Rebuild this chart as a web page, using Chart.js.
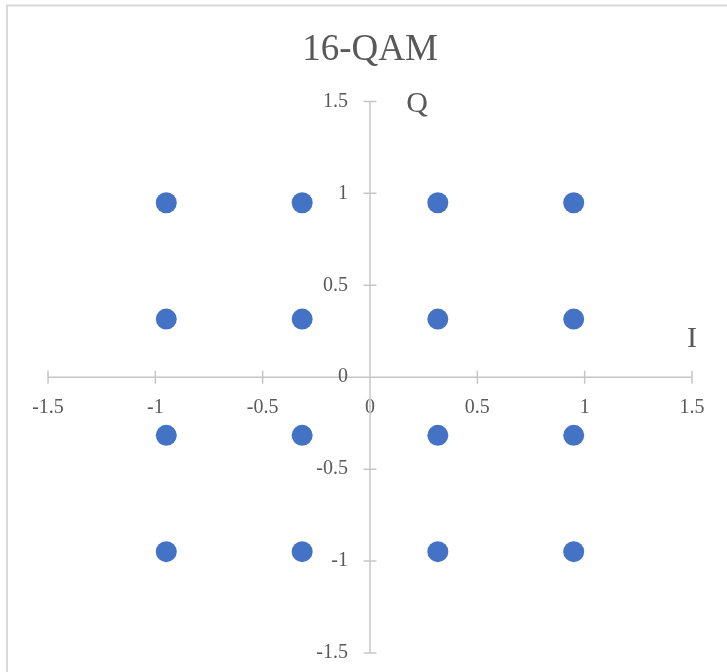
<!DOCTYPE html>
<html lang="en">
<head>
    <meta charset="UTF-8">
    <title>16-QAM</title>
    <script src="https://cdn.jsdelivr.net/npm/chart.js"></script>
    <style>
        html, body { margin: 0; padding: 0; background: #ffffff; }
        .chart-container { width: 727px; height: 672px; }
    </style>
</head>
<body>

<div class="chart-container">
    <canvas id="qamChart"></canvas>
</div>

<script>
    // constellation points (in-phase / quadrature)
    const iValues = [-0.949, -0.316, 0.316, 0.949, -0.949, -0.316, 0.316, 0.949,
                     -0.949, -0.316, 0.316, 0.949, -0.949, -0.316, 0.316, 0.949];
    const qValues = [0.949, 0.949, 0.949, 0.949, 0.316, 0.316, 0.316, 0.316,
                     -0.316, -0.316, -0.316, -0.316, -0.949, -0.949, -0.949, -0.949];
    const axisTicks = [-1.5, -1, -0.5, 0, 0.5, 1, 1.5];

    const points = iValues.map((x, k) => ({ x: x, y: qValues[k] }));

    const serif = '"Liberation Serif", "Times New Roman", serif';
    const textColor = '#595959';
    const lineColor = '#c6c6c6';

    // axis lines through the origin, with ticks crossing both sides
    const crossAxes = {
        id: 'crossAxes',
        beforeDraw(chart) {
            const ctx = chart.ctx;
            ctx.save();
            ctx.strokeStyle = '#d9d9d9';
            ctx.lineWidth = 2;
            ctx.beginPath();
            ctx.moveTo(7, chart.height + 2);
            ctx.lineTo(7, 5.5);
            ctx.lineTo(chart.width + 2, 5.5);
            ctx.stroke();
            ctx.restore();
        },
        beforeDatasetsDraw(chart) {
            const { ctx, scales: { x, y } } = chart;
            const x0 = x.getPixelForValue(0);
            const y0 = y.getPixelForValue(0);
            const t = 6.5;
            ctx.save();
            ctx.strokeStyle = lineColor;
            ctx.lineWidth = 1.5;
            ctx.beginPath();
            ctx.moveTo(x.getPixelForValue(-1.5), y0);
            ctx.lineTo(x.getPixelForValue(1.5), y0);
            ctx.moveTo(x0, y.getPixelForValue(1.5));
            ctx.lineTo(x0, y.getPixelForValue(-1.5));
            axisTicks.forEach(v => {
                const px = x.getPixelForValue(v);
                ctx.moveTo(px, y0 - t);
                ctx.lineTo(px, y0 + t);
                const py = y.getPixelForValue(v);
                ctx.moveTo(x0 - t, py);
                ctx.lineTo(x0 + t, py);
            });
            ctx.stroke();

            ctx.fillStyle = textColor;

            // Q-axis tick labels, right aligned left of the vertical axis
            ctx.font = '20px ' + serif;
            ctx.textAlign = 'right';
            ctx.textBaseline = 'middle';
            axisTicks.forEach(v => {
                ctx.fillText(String(v), x0 - 22, y.getPixelForValue(v));
            });

            // axis names
            ctx.font = '30px ' + serif;
            ctx.textAlign = 'center';
            ctx.fillText('Q', x0 + 47, y.getPixelForValue(1.5) + 3);
            ctx.fillText('I', x.getPixelForValue(1.5), y0 - 38);
            ctx.restore();
        }
    };

    new Chart(document.getElementById('qamChart'), {
        type: 'scatter',
        data: {
            datasets: [{
                label: '16-QAM',
                data: points,
                backgroundColor: '#4472c4',
                borderWidth: 0,
                pointRadius: 10.5,
                pointHoverRadius: 10.5
            }]
        },
        options: {
            responsive: true,
            maintainAspectRatio: false,
            animation: false,
            layout: { padding: { left: 48, right: 35, top: 0, bottom: 19 } },
            plugins: {
                legend: { display: false },
                tooltip: { enabled: false },
                title: {
                    display: true,
                    text: '16-QAM',
                    color: textColor,
                    font: { family: serif, size: 37, weight: 'normal' },
                    padding: { top: 28, bottom: 29 }
                }
            },
            scales: {
                x: {
                    type: 'linear',
                    position: { y: 0 },
                    min: -1.5,
                    max: 1.5,
                    grid: { display: false, drawTicks: false },
                    border: { display: false },
                    afterBuildTicks: s => { s.ticks = axisTicks.map(v => ({ value: v })); },
                    ticks: {
                        autoSkip: false,
                        maxRotation: 0,
                        padding: 19,
                        color: textColor,
                        font: { family: serif, size: 20 },
                        callback: v => String(v)
                    }
                },
                y: {
                    type: 'linear',
                    position: { x: 0 },
                    min: -1.5,
                    max: 1.5,
                    grid: { display: false, drawTicks: false },
                    border: { display: false },
                    afterBuildTicks: s => { s.ticks = axisTicks.map(v => ({ value: v })); },
                    ticks: { display: false }
                }
            }
        },
        plugins: [crossAxes]
    });
</script>

</body>
</html>
